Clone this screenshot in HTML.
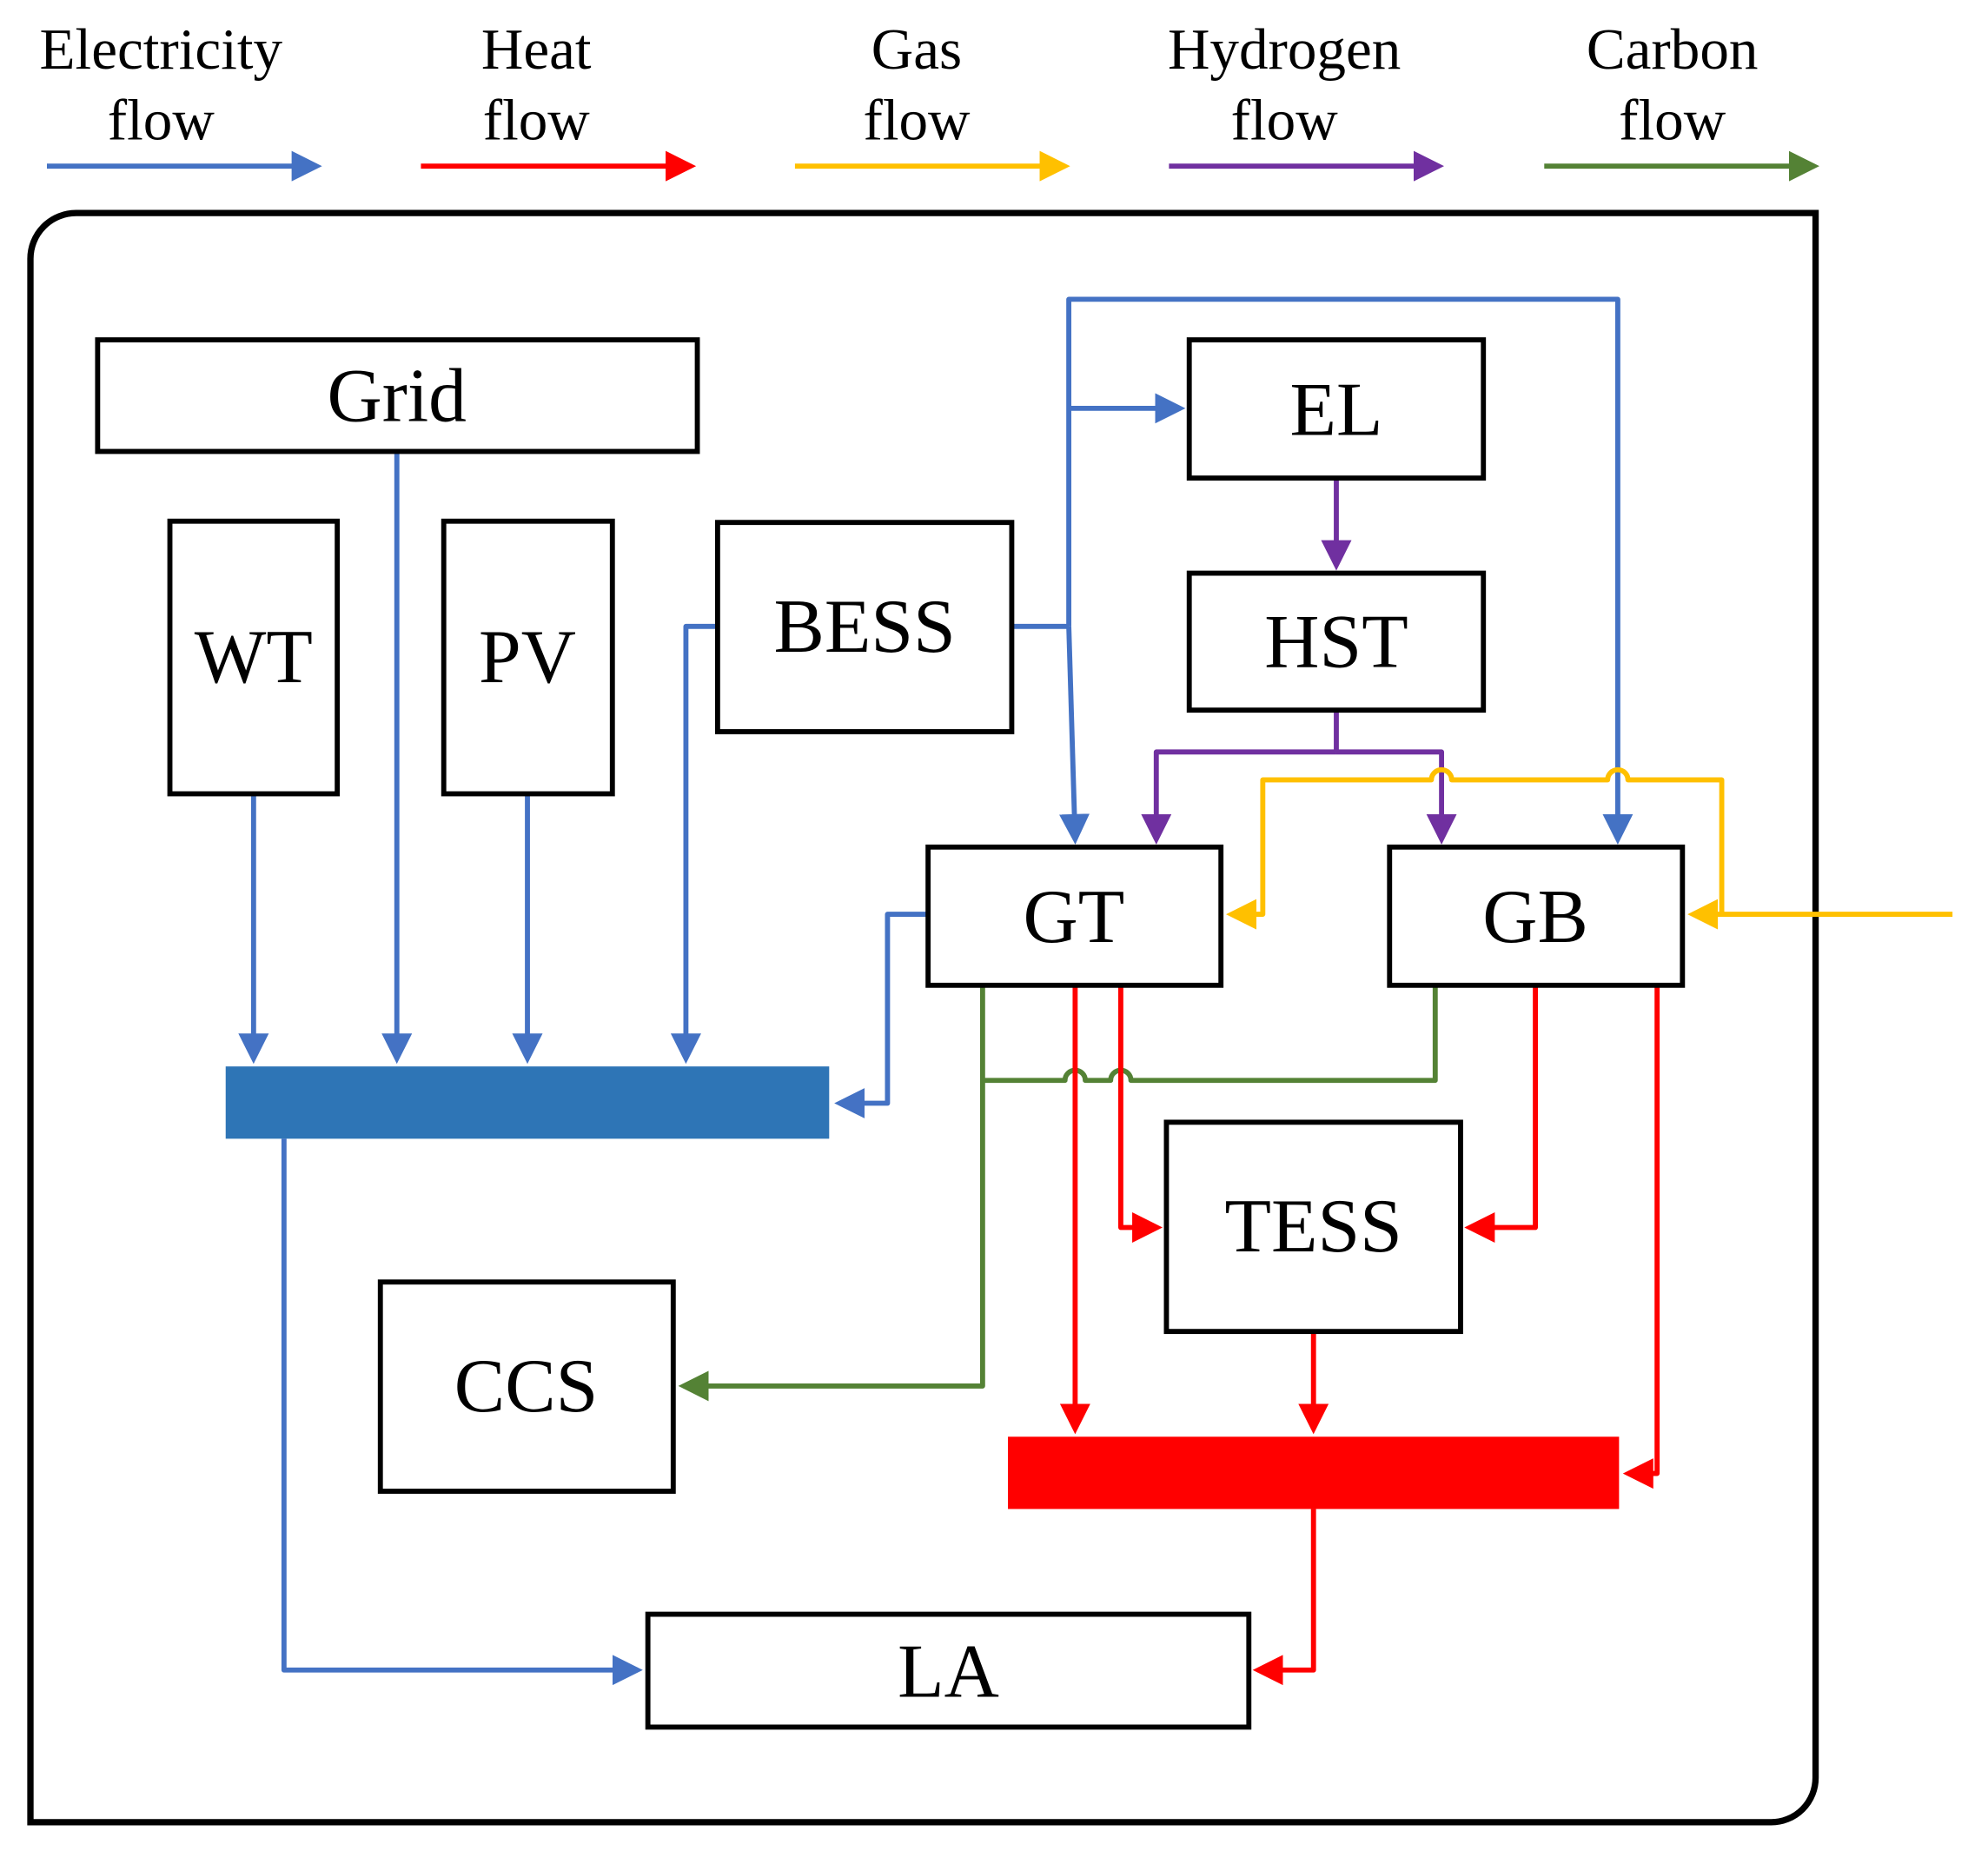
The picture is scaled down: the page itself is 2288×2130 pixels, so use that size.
<!DOCTYPE html>
<html><head><meta charset="utf-8"><style>
html,body{margin:0;padding:0;background:#fff;}
svg{display:block;}
text{font-family:"Liberation Serif",serif;fill:#000;}
</style></head><body>
<svg width="2288" height="2130" viewBox="0 0 1568 1459.7" xmlns="http://www.w3.org/2000/svg">
<defs>
<marker id="ab" markerWidth="6" markerHeight="6" refX="5" refY="3" orient="auto" markerUnits="strokeWidth"><path d="M0,0 L6,3 L0,6 z" fill="#4472C4"/></marker>
<marker id="ar" markerWidth="6" markerHeight="6" refX="5" refY="3" orient="auto" markerUnits="strokeWidth"><path d="M0,0 L6,3 L0,6 z" fill="#FF0000"/></marker>
<marker id="ay" markerWidth="6" markerHeight="6" refX="5" refY="3" orient="auto" markerUnits="strokeWidth"><path d="M0,0 L6,3 L0,6 z" fill="#FFC000"/></marker>
<marker id="ap" markerWidth="6" markerHeight="6" refX="5" refY="3" orient="auto" markerUnits="strokeWidth"><path d="M0,0 L6,3 L0,6 z" fill="#7030A0"/></marker>
<marker id="ag" markerWidth="6" markerHeight="6" refX="5" refY="3" orient="auto" markerUnits="strokeWidth"><path d="M0,0 L6,3 L0,6 z" fill="#548235"/></marker>
</defs>
<g font-size="46" text-anchor="middle">
<text x="127" y="54">Electricity</text><text x="127" y="110">flow</text>
<text x="423" y="54">Heat</text><text x="423" y="110">flow</text>
<text x="723" y="54">Gas</text><text x="723" y="110">flow</text>
<text x="1013" y="54">Hydrogen</text><text x="1013" y="110">flow</text>
<text x="1319" y="54">Carbon</text><text x="1319" y="110">flow</text>
</g>
<g stroke-width="4" fill="none">
<line x1="37" y1="131" x2="250" y2="131" stroke="#4472C4" marker-end="url(#ab)"/>
<line x1="332" y1="131" x2="545" y2="131" stroke="#FF0000" marker-end="url(#ar)"/>
<line x1="627" y1="131" x2="840" y2="131" stroke="#FFC000" marker-end="url(#ay)"/>
<line x1="922" y1="131" x2="1135" y2="131" stroke="#7030A0" marker-end="url(#ap)"/>
<line x1="1218" y1="131" x2="1431" y2="131" stroke="#548235" marker-end="url(#ag)"/>
</g>
<path d="M60,168 H1432 V1402 A35,35 0 0 1 1397,1437 H24 V204 A36,36 0 0 1 60,168 Z" fill="none" stroke="#000" stroke-width="5"/>
<rect x="178" y="841" width="476" height="57" fill="#2E75B6"/>
<rect x="795" y="1133" width="482" height="57" fill="#FF0000"/>
<g fill="none" stroke-width="4" stroke-linejoin="round">
<g stroke="#4472C4">
<path d="M200,626 V835" marker-end="url(#ab)"/>
<path d="M313,356 V835" marker-end="url(#ab)"/>
<path d="M416,626 V835" marker-end="url(#ab)"/>
<path d="M566,494 H541 V835" marker-end="url(#ab)"/>
<path d="M732,721 H700 V870 H662" marker-end="url(#ab)"/>
<path d="M224,898 V1317 H503" marker-end="url(#ab)"/>
<path d="M798,494 H843"/>
<path d="M843,494 L848,662" marker-end="url(#ab)"/>
<path d="M843,494 V236 H1276 V662" marker-end="url(#ab)"/>
<path d="M843,322 H931" marker-end="url(#ab)"/>
</g>
<g stroke="#7030A0">
<path d="M1054,377 V446" marker-end="url(#ap)"/>
<path d="M1054,560 V593"/>
<path d="M1054,593 H912 V662" marker-end="url(#ap)"/>
<path d="M1054,593 H1137 V662" marker-end="url(#ap)"/>
</g>
<g stroke="#FFC000">
<path d="M1540,721 H1335" marker-end="url(#ay)"/>
<path d="M1358,721 V615 H1284 A8,8 0 0 0 1268,615 H1145 A8,8 0 0 0 1129,615 H996 V721 H971" marker-end="url(#ay)"/>
</g>
<g stroke="#548235">
<path d="M775,777 V1093 H539" marker-end="url(#ag)"/>
<path d="M1132,777 V852 H892 A8,8 0 0 0 876,852 H856 A8,8 0 0 0 840,852 H775"/>
</g>
<g stroke="#FF0000">
<path d="M848,777 V1127" marker-end="url(#ar)"/>
<path d="M884,777 V968 H913" marker-end="url(#ar)"/>
<path d="M1211,777 V968 H1159" marker-end="url(#ar)"/>
<path d="M1307,777 V1162 H1284" marker-end="url(#ar)"/>
<path d="M1036,1050 V1127" marker-end="url(#ar)"/>
<path d="M1036,1190 V1317 H992" marker-end="url(#ar)"/>
</g>
</g>
<g fill="#fff" stroke="#000" stroke-width="4">
<rect x="77" y="268" width="473" height="88"/>
<rect x="134" y="411" width="132" height="215"/>
<rect x="350" y="411" width="133" height="215"/>
<rect x="566" y="412" width="232" height="165"/>
<rect x="938" y="268" width="232" height="109"/>
<rect x="938" y="452" width="232" height="108"/>
<rect x="732" y="668" width="231" height="109"/>
<rect x="1096" y="668" width="231" height="109"/>
<rect x="920" y="885" width="232" height="165"/>
<rect x="300" y="1011" width="231" height="165"/>
<rect x="511" y="1273" width="474" height="89"/>
</g>
<g font-size="60" text-anchor="middle">
<text x="313" y="332">Grid</text>
<text x="200" y="538">WT</text>
<text x="416" y="538">PV</text>
<text x="682" y="514">BESS</text>
<text x="1054" y="343">EL</text>
<text x="1054" y="526">HST</text>
<text x="847" y="743">GT</text>
<text x="1211" y="743">GB</text>
<text x="1036" y="987">TESS</text>
<text x="415" y="1113">CCS</text>
<text x="748" y="1338">LA</text>
</g>
</svg>
</body></html>
